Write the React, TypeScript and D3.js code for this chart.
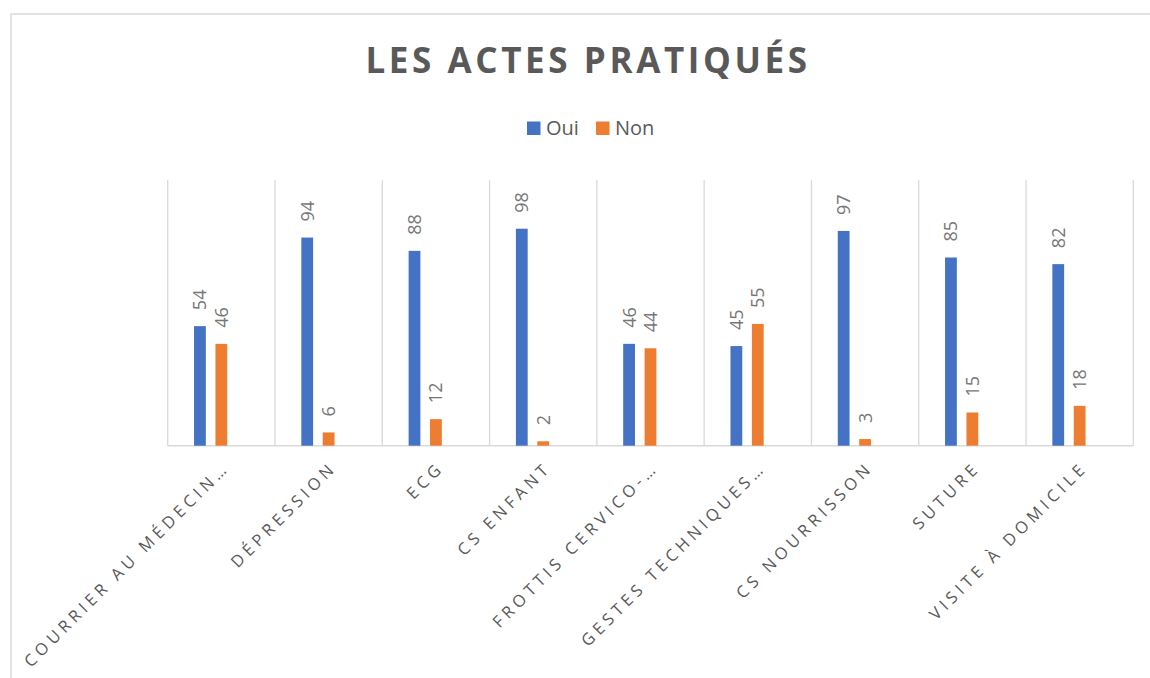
import React from "react";
import * as d3 from "d3";

const categories = [
  "COURRIER AU MÉDECIN…",
  "DÉPRESSION",
  "ECG",
  "CS ENFANT",
  "FROTTIS CERVICO-…",
  "GESTES TECHNIQUES…",
  "CS NOURRISSON",
  "SUTURE",
  "VISITE À DOMICILE",
];
const oui = [54, 94, 88, 98, 46, 45, 97, 85, 82];
const non = [46, 6, 12, 2, 44, 55, 3, 15, 18];
const seriesNames = ["Oui", "Non"];
const colors = ["#4472C4", "#ED7D31"];

const width = 1150;
const height = 678;
const left = 167.7;
const right = 1133.3;
const top = 180;
const bottom = 445.7;
const font = "'Open Sans', sans-serif";

const Bars = ({ values, slot, x, inner, y, color }) => (
  <g>
    {values.map((v, i) => {
      const bx = x(categories[i]) + inner(slot);
      const cx = bx + inner.bandwidth() / 2;
      return (
        <g key={i}>
          <rect x={bx} y={y(v)} width={inner.bandwidth()} height={bottom - y(v)} fill={color} />
          <text
            transform={`translate(${cx + 6.5},${y(v) - 16}) rotate(-90)`}
            fill="#767676"
            fontSize="18"
            fontFamily={font}
          >
            {v}
          </text>
        </g>
      );
    })}
  </g>
);

const App = () => {
  const x = d3.scaleBand().domain(categories).range([left, right]).padding(0);
  // Excel leaves room for three bars per category; the third slot stays empty
  const inner = d3
    .scaleBand()
    .domain(["a", "b", "c"])
    .range([0, x.bandwidth()])
    .paddingInner(0.45)
    .paddingOuter(1.23);
  const y = d3.scaleLinear().domain([0, 120]).range([bottom, top]);

  const grid = categories.map(c => x(c)).concat([right]);

  return (
    <svg
      width={width}
      height={height}
      style={{ position: "absolute", left: 0, top: 0, background: "white" }}
    >
      <rect x={11} y={14} width={1160} height={700} fill="none" stroke="#d9d9d9" strokeWidth="1.5" />
      <text
        x={588}
        y={73}
        textAnchor="middle"
        fontFamily={font}
        fontWeight="bold"
        fontSize="35"
        letterSpacing="3.6"
        fill="#595959"
      >
        LES ACTES PRATIQUÉS
      </text>

      {seriesNames.map((s, i) => (
        <g key={s} transform={`translate(${527 + i * 69},0)`}>
          <rect x={0} y={121.5} width={13.5} height={13.5} fill={colors[i]} />
          <text x={19} y={134.5} fontFamily={font} fontSize="20" fill="#595959">
            {s}
          </text>
        </g>
      ))}

      {grid.map((gx, i) => (
        <line key={i} x1={gx} x2={gx} y1={top} y2={bottom} stroke="#d9d9d9" strokeWidth="1.3" />
      ))}
      <line x1={left} x2={right} y1={bottom} y2={bottom} stroke="#d9d9d9" strokeWidth="1.5" />

      <Bars values={oui} slot="a" x={x} inner={inner} y={y} color={colors[0]} />
      <Bars values={non} slot="b" x={x} inner={inner} y={y} color={colors[1]} />

      {categories.map(c => (
        <text
          key={c}
          transform={`translate(${x(c) + x.bandwidth() / 2 + 9},${bottom + 23}) rotate(-45)`}
          textAnchor="end"
          fontFamily={font}
          fontSize="16.5"
          letterSpacing="4.3"
          fill="#595959"
        >
          {c}
        </text>
      ))}
    </svg>
  );
};

export default App;
